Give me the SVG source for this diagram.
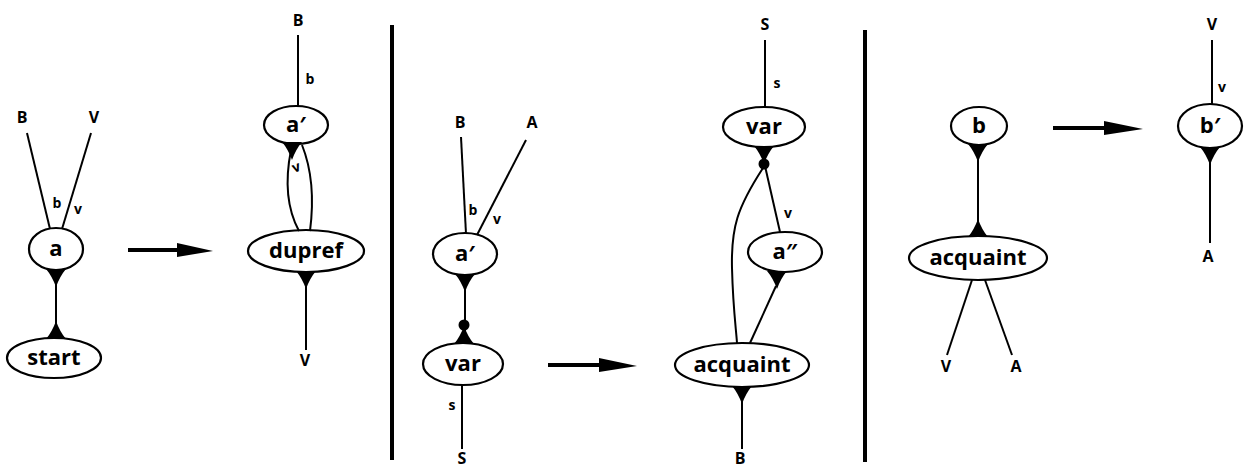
<svg xmlns="http://www.w3.org/2000/svg" width="1246" height="468" viewBox="0 0 1246 468">
<style>
  .n { fill: #fff; stroke: #000; stroke-width: 2.2; }
  .nl { font-family: "Open Sans", "DejaVu Sans", sans-serif; font-weight: 700; font-size: 22px; text-anchor: middle; fill: #000; }
  .cap { font-family: "Open Sans", "DejaVu Sans", sans-serif; font-weight: 700; font-size: 16px; text-anchor: middle; fill: #000; }
  .sm { font-family: "Open Sans", "DejaVu Sans", sans-serif; font-weight: 700; font-size: 14px; text-anchor: middle; fill: #000; }
  .e { fill: none; stroke: #000; stroke-width: 2; }
  .div { stroke: #000; stroke-width: 4; }
  .arr { stroke: #000; stroke-width: 4; }
  .tri { fill: #000; }
</style>
<defs>
  <path id="td" class="tri" d="M-10,-1 L10,-1 Q4,6 0,17 Q-4,6 -10,-1 Z"/>
  <path id="tu" class="tri" d="M-10,1 L10,1 Q4,-6 0,-17 Q-4,-6 -10,1 Z"/>
</defs>

<!-- panel 1 nodes -->
<g id="n1-a"><ellipse class="n" cx="56" cy="249" rx="27" ry="21"/><text class="nl" x="56" y="256">a</text></g>
<g id="n1-start"><ellipse class="n" cx="54" cy="358" rx="47" ry="20"/><text class="nl" x="54" y="365">start</text></g>
<g id="p1-labels">
  <text class="cap" x="22" y="123">B</text>
  <text class="cap" x="94" y="123">V</text>
  <text class="sm" x="57" y="208">b</text>
  <text class="sm" x="78" y="214">v</text>
</g>

<!-- panel 2 nodes -->
<g id="n2-a1"><ellipse class="n" cx="296" cy="125" rx="32" ry="19"/><text class="nl" x="296" y="132">a′</text></g>
<g id="n2-dupref"><ellipse class="n" cx="306" cy="251" rx="58" ry="21"/><text class="nl" x="306" y="258">dupref</text></g>
<g id="p2-labels">
  <text class="cap" x="298" y="26">B</text>
  <text class="sm" x="310" y="84">b</text>
  <text class="sm" x="296" y="172" transform="rotate(-20 296 167)">v</text>
  <text class="cap" x="305" y="366">V</text>
</g>

<!-- panel 3 nodes -->
<g id="n3-a1"><ellipse class="n" cx="465" cy="254" rx="32" ry="21"/><text class="nl" x="465" y="261">a′</text></g>
<g id="n3-var"><ellipse class="n" cx="463" cy="364" rx="40" ry="21"/><text class="nl" x="463" y="371">var</text></g>
<g id="p3-labels">
  <text class="cap" x="460" y="128">B</text>
  <text class="cap" x="532" y="128">A</text>
  <text class="sm" x="473" y="215">b</text>
  <text class="sm" x="497" y="224">v</text>
  <text class="sm" x="452" y="410">s</text>
  <text class="cap" x="462" y="464">S</text>
</g>

<!-- panel 4 nodes -->
<g id="n4-var"><ellipse class="n" cx="764" cy="127" rx="41" ry="20"/><text class="nl" x="764" y="134">var</text></g>
<g id="n4-a2"><ellipse class="n" cx="785" cy="252" rx="37" ry="20"/><text class="nl" x="785" y="259">a″</text></g>
<g id="n4-acquaint"><ellipse class="n" cx="742" cy="365" rx="67" ry="22"/><text class="nl" x="742" y="372">acquaint</text></g>
<g id="p4-labels">
  <text class="cap" x="765" y="30">S</text>
  <text class="sm" x="777" y="88">s</text>
  <text class="sm" x="788" y="218">v</text>
  <text class="cap" x="740" y="464">B</text>
</g>

<!-- panel 5 nodes -->
<g id="n5-b"><ellipse class="n" cx="979" cy="126" rx="28" ry="19"/><text class="nl" x="979" y="133">b</text></g>
<g id="n5-acquaint"><ellipse class="n" cx="978" cy="258" rx="69" ry="22"/><text class="nl" x="978" y="265">acquaint</text></g>
<g id="p5-labels">
  <text class="cap" x="946" y="372">V</text>
  <text class="cap" x="1016" y="372">A</text>
</g>

<!-- panel 6 nodes -->
<g id="n6-b1"><ellipse class="n" cx="1210" cy="126" rx="32" ry="22"/><text class="nl" x="1210" y="133">b′</text></g>
<g id="p6-labels">
  <text class="cap" x="1212" y="30">V</text>
  <text class="sm" x="1222" y="92">v</text>
  <text class="cap" x="1208" y="262">A</text>
</g>

<g id="connectors">
  <!-- panel 1 -->
  <line class="e" x1="27" y1="133" x2="50" y2="229"/>
  <line class="e" x1="91" y1="133" x2="62" y2="229"/>
  <line class="e" x1="56" y1="270" x2="56" y2="338"/>
  <use href="#td" x="56" y="270"/>
  <use href="#tu" x="56" y="338"/>
  <!-- arrow 1 -->
  <line class="arr" x1="128" y1="250" x2="182" y2="250"/>
  <polygon class="tri" points="177,243 213,251 177,257"/>
  <!-- panel 2 -->
  <line class="e" x1="298" y1="35" x2="298" y2="106"/>
  <path class="e" d="M291,150 C285,180 286,207 299,231"/>
  <path class="e" d="M302,145 C312,170 314,200 310,231"/>
  <use href="#td" x="292" y="143"/>
  <line class="e" x1="306" y1="272" x2="306" y2="350"/>
  <use href="#td" x="306" y="272"/>
  <!-- divider 1 -->
  <line class="div" x1="392" y1="25" x2="392" y2="460"/>
  <!-- panel 3 -->
  <line class="e" x1="461" y1="137" x2="466" y2="234"/>
  <line class="e" x1="526" y1="140" x2="477" y2="235"/>
  <line class="e" x1="465" y1="275" x2="465" y2="340"/>
  <use href="#td" x="465" y="275"/>
  <circle cx="464" cy="325" r="5.5" fill="#000"/>
  <use href="#tu" x="464" y="343"/>
  <line class="e" x1="462" y1="385" x2="462" y2="449"/>
  <!-- arrow 2 -->
  <line class="arr" x1="548" y1="365" x2="602" y2="365"/>
  <polygon class="tri" points="599,358 637,366 599,372"/>
  <!-- panel 4 -->
  <line class="e" x1="765" y1="40" x2="765" y2="107"/>
  <use href="#td" x="764" y="147"/>
  <circle cx="764" cy="164" r="5.5" fill="#000"/>
  <line class="e" x1="765" y1="166" x2="780" y2="232"/>
  <path class="e" d="M763,168 C737,208 731,228 732,268 C733,308 736,328 737,343"/>
  <use href="#td" x="777" y="272"/>
  <line class="e" x1="776" y1="286" x2="750" y2="343"/>
  <use href="#td" x="742" y="387"/>
  <line class="e" x1="742" y1="400" x2="742" y2="449"/>
  <!-- divider 2 -->
  <line class="div" x1="865" y1="30" x2="865" y2="462"/>
  <!-- panel 5 -->
  <line class="e" x1="978" y1="145" x2="978" y2="236"/>
  <use href="#td" x="978" y="145"/>
  <use href="#tu" x="978" y="236"/>
  <line class="e" x1="972" y1="280" x2="947" y2="355"/>
  <line class="e" x1="985" y1="280" x2="1012" y2="355"/>
  <!-- arrow 3 -->
  <line class="arr" x1="1053" y1="128" x2="1107" y2="128"/>
  <polygon class="tri" points="1104,121 1143,129 1104,135"/>
  <!-- panel 6 -->
  <line class="e" x1="1212" y1="40" x2="1212" y2="104"/>
  <use href="#td" x="1210" y="148"/>
  <line class="e" x1="1210" y1="148" x2="1210" y2="243"/>
</g>
</svg>
